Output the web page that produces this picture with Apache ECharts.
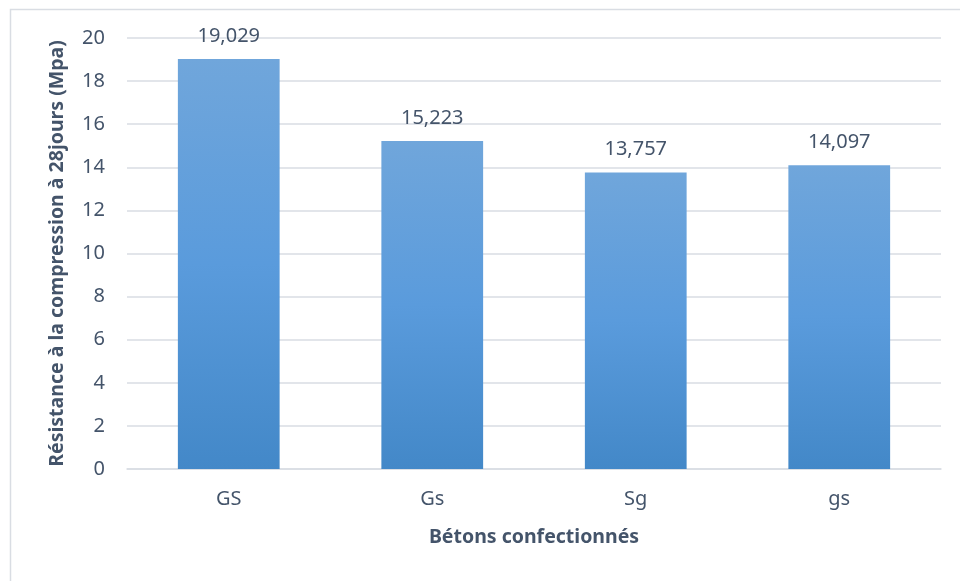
<!DOCTYPE html>
<html>
<head>
<meta charset="utf-8">
<script src="https://cdn.jsdelivr.net/npm/echarts@6/dist/echarts.min.js"></script>
<style>
  html, body { margin: 0; padding: 0; background: #ffffff; }
  #chart { width: 960px; height: 581px; }
</style>
</head>
<body>
<div id="chart"></div>
<script>
// Compressive strength at 28 days for each concrete mix
const categories = ['GS', 'Gs', 'Sg', 'gs'];
const strengths = [19.029, 15.223, 13.757, 14.097];
const yTicks = [0, 2, 4, 6, 8, 10, 12, 14, 16, 18, 20];

const textColor = '#44546a';
const fontFamily = '"Noto Sans", "Open Sans", sans-serif';

const chart = echarts.init(document.getElementById('chart'));
chart.setOption({
  animation: false,
  backgroundColor: '#ffffff',
  graphic: [{
    type: 'rect',
    shape: { x: 10.5, y: 9.5, width: 960, height: 600 },
    style: { fill: 'none', stroke: '#d9dde3', lineWidth: 1.5 },
    silent: true,
    z: -1
  }],
  grid: { left: 127, right: 19, top: 38, bottom: 112 },
  xAxis: {
    type: 'category',
    data: categories,
    axisLine: { show: true, lineStyle: { color: '#d9dde3', width: 1.5 } },
    axisTick: { show: false },
    axisLabel: { color: textColor, fontSize: 20, fontFamily: fontFamily, margin: 20 },
    name: 'Bétons confectionnés',
    nameLocation: 'middle',
    nameGap: 58,
    nameTextStyle: { color: textColor, fontSize: 19.5, fontWeight: 'bold', fontFamily: fontFamily }
  },
  yAxis: {
    type: 'value',
    min: yTicks[0],
    max: yTicks[yTicks.length - 1],
    interval: 2,
    axisLine: { show: false },
    axisTick: { show: false },
    splitLine: { lineStyle: { color: '#d9dde3', width: 1.5 } },
    axisLabel: { color: textColor, fontSize: 20, fontFamily: fontFamily, margin: 22 },
    name: 'Résistance à la compression à 28jours (Mpa)',
    nameLocation: 'middle',
    nameGap: 60,
    nameTextStyle: { color: textColor, fontSize: 19.5, fontWeight: 'bold', fontFamily: fontFamily }
  },
  series: [{
    type: 'bar',
    data: strengths,
    barWidth: '50%',
    itemStyle: {
      color: new echarts.graphic.LinearGradient(0, 0, 0, 1, [
        { offset: 0, color: '#70a6db' },
        { offset: 0.5, color: '#5a9bdc' },
        { offset: 1, color: '#4388c8' }
      ])
    },
    label: {
      show: true,
      position: 'top',
      distance: 13,
      color: textColor,
      fontSize: 20,
      fontFamily: fontFamily,
      formatter: p => p.value.toFixed(3).replace('.', ',')
    }
  }]
});
</script>
</body>
</html>
